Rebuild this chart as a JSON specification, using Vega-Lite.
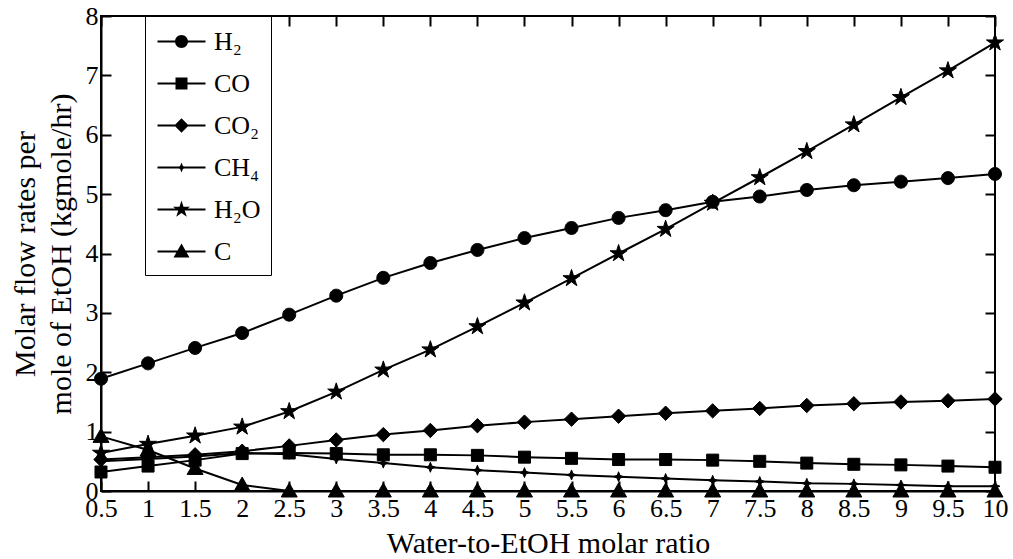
{
  "$schema": "https://vega.github.io/schema/vega-lite/v6.json",
  "width": 894,
  "height": 475,
  "autosize": "none",
  "padding": {"left": 101, "top": 16, "right": 18, "bottom": 68},
  "background": "white",
  "config": {
    "view": {"stroke": "black", "strokeWidth": 2},
    "font": "Liberation Serif"
  },
  "data": {
    "values": [
      {"x": 0.5, "s": "H₂", "y": 1.89}, {"x": 1, "s": "H₂", "y": 2.15}, {"x": 1.5, "s": "H₂", "y": 2.41}, {"x": 2, "s": "H₂", "y": 2.66}, {"x": 2.5, "s": "H₂", "y": 2.97}, {"x": 3, "s": "H₂", "y": 3.29}, {"x": 3.5, "s": "H₂", "y": 3.59}, {"x": 4, "s": "H₂", "y": 3.84}, {"x": 4.5, "s": "H₂", "y": 4.06}, {"x": 5, "s": "H₂", "y": 4.26}, {"x": 5.5, "s": "H₂", "y": 4.43}, {"x": 6, "s": "H₂", "y": 4.6}, {"x": 6.5, "s": "H₂", "y": 4.73}, {"x": 7, "s": "H₂", "y": 4.87}, {"x": 7.5, "s": "H₂", "y": 4.96}, {"x": 8, "s": "H₂", "y": 5.07}, {"x": 8.5, "s": "H₂", "y": 5.15}, {"x": 9, "s": "H₂", "y": 5.21}, {"x": 9.5, "s": "H₂", "y": 5.27}, {"x": 10, "s": "H₂", "y": 5.34},
      {"x": 0.5, "s": "CO", "y": 0.32}, {"x": 1, "s": "CO", "y": 0.42}, {"x": 1.5, "s": "CO", "y": 0.52}, {"x": 2, "s": "CO", "y": 0.63}, {"x": 2.5, "s": "CO", "y": 0.64}, {"x": 3, "s": "CO", "y": 0.63}, {"x": 3.5, "s": "CO", "y": 0.61}, {"x": 4, "s": "CO", "y": 0.61}, {"x": 4.5, "s": "CO", "y": 0.6}, {"x": 5, "s": "CO", "y": 0.57}, {"x": 5.5, "s": "CO", "y": 0.55}, {"x": 6, "s": "CO", "y": 0.53}, {"x": 6.5, "s": "CO", "y": 0.53}, {"x": 7, "s": "CO", "y": 0.52}, {"x": 7.5, "s": "CO", "y": 0.5}, {"x": 8, "s": "CO", "y": 0.47}, {"x": 8.5, "s": "CO", "y": 0.45}, {"x": 9, "s": "CO", "y": 0.44}, {"x": 9.5, "s": "CO", "y": 0.42}, {"x": 10, "s": "CO", "y": 0.4},
      {"x": 0.5, "s": "CO₂", "y": 0.53}, {"x": 1, "s": "CO₂", "y": 0.57}, {"x": 1.5, "s": "CO₂", "y": 0.61}, {"x": 2, "s": "CO₂", "y": 0.67}, {"x": 2.5, "s": "CO₂", "y": 0.76}, {"x": 3, "s": "CO₂", "y": 0.86}, {"x": 3.5, "s": "CO₂", "y": 0.95}, {"x": 4, "s": "CO₂", "y": 1.02}, {"x": 4.5, "s": "CO₂", "y": 1.1}, {"x": 5, "s": "CO₂", "y": 1.16}, {"x": 5.5, "s": "CO₂", "y": 1.21}, {"x": 6, "s": "CO₂", "y": 1.26}, {"x": 6.5, "s": "CO₂", "y": 1.31}, {"x": 7, "s": "CO₂", "y": 1.35}, {"x": 7.5, "s": "CO₂", "y": 1.39}, {"x": 8, "s": "CO₂", "y": 1.44}, {"x": 8.5, "s": "CO₂", "y": 1.47}, {"x": 9, "s": "CO₂", "y": 1.5}, {"x": 9.5, "s": "CO₂", "y": 1.52}, {"x": 10, "s": "CO₂", "y": 1.55},
      {"x": 0.5, "s": "CH₄", "y": 0.5}, {"x": 1, "s": "CH₄", "y": 0.54}, {"x": 1.5, "s": "CH₄", "y": 0.58}, {"x": 2, "s": "CH₄", "y": 0.64}, {"x": 2.5, "s": "CH₄", "y": 0.62}, {"x": 3, "s": "CH₄", "y": 0.54}, {"x": 3.5, "s": "CH₄", "y": 0.47}, {"x": 4, "s": "CH₄", "y": 0.4}, {"x": 4.5, "s": "CH₄", "y": 0.35}, {"x": 5, "s": "CH₄", "y": 0.31}, {"x": 5.5, "s": "CH₄", "y": 0.27}, {"x": 6, "s": "CH₄", "y": 0.24}, {"x": 6.5, "s": "CH₄", "y": 0.21}, {"x": 7, "s": "CH₄", "y": 0.18}, {"x": 7.5, "s": "CH₄", "y": 0.16}, {"x": 8, "s": "CH₄", "y": 0.13}, {"x": 8.5, "s": "CH₄", "y": 0.12}, {"x": 9, "s": "CH₄", "y": 0.1}, {"x": 9.5, "s": "CH₄", "y": 0.08}, {"x": 10, "s": "CH₄", "y": 0.08},
      {"x": 0.5, "s": "H₂O", "y": 0.64}, {"x": 1, "s": "H₂O", "y": 0.79}, {"x": 1.5, "s": "H₂O", "y": 0.93}, {"x": 2, "s": "H₂O", "y": 1.08}, {"x": 2.5, "s": "H₂O", "y": 1.34}, {"x": 3, "s": "H₂O", "y": 1.67}, {"x": 3.5, "s": "H₂O", "y": 2.04}, {"x": 4, "s": "H₂O", "y": 2.38}, {"x": 4.5, "s": "H₂O", "y": 2.77}, {"x": 5, "s": "H₂O", "y": 3.17}, {"x": 5.5, "s": "H₂O", "y": 3.58}, {"x": 6, "s": "H₂O", "y": 4.0}, {"x": 6.5, "s": "H₂O", "y": 4.41}, {"x": 7, "s": "H₂O", "y": 4.85}, {"x": 7.5, "s": "H₂O", "y": 5.28}, {"x": 8, "s": "H₂O", "y": 5.72}, {"x": 8.5, "s": "H₂O", "y": 6.17}, {"x": 9, "s": "H₂O", "y": 6.63}, {"x": 9.5, "s": "H₂O", "y": 7.08}, {"x": 10, "s": "H₂O", "y": 7.55},
      {"x": 0.5, "s": "C", "y": 0.92}, {"x": 1, "s": "C", "y": 0.69}, {"x": 1.5, "s": "C", "y": 0.38}, {"x": 2, "s": "C", "y": 0.1}, {"x": 2.5, "s": "C", "y": 0}, {"x": 3, "s": "C", "y": 0}, {"x": 3.5, "s": "C", "y": 0}, {"x": 4, "s": "C", "y": 0}, {"x": 4.5, "s": "C", "y": 0}, {"x": 5, "s": "C", "y": 0}, {"x": 5.5, "s": "C", "y": 0}, {"x": 6, "s": "C", "y": 0}, {"x": 6.5, "s": "C", "y": 0}, {"x": 7, "s": "C", "y": 0}, {"x": 7.5, "s": "C", "y": 0}, {"x": 8, "s": "C", "y": 0}, {"x": 8.5, "s": "C", "y": 0}, {"x": 9, "s": "C", "y": 0}, {"x": 9.5, "s": "C", "y": 0}, {"x": 10, "s": "C", "y": 0}
    ]
  },
  "layer": [
    {
      "mark": {"type": "line", "color": "black", "strokeWidth": 2},
      "encoding": {
        "x": {
          "field": "x", "type": "quantitative",
          "scale": {"domain": [0.5, 10], "nice": false, "zero": false},
          "axis": {
            "orient": "bottom",
            "values": [0.5, 1, 1.5, 2, 2.5, 3, 3.5, 4, 4.5, 5, 5.5, 6, 6.5, 7, 7.5, 8, 8.5, 9, 9.5, 10],
            "format": "~g",
            "grid": false,
            "domainColor": "black", "domainWidth": 2,
            "tickColor": "black", "tickWidth": 2, "tickSize": -10,
            "labelColor": "black", "labelFont": "Liberation Serif", "labelFontSize": 26,
            "labelPadding": 14, "labelFlush": false, "labelOverlap": false,
            "title": "Water-to-EtOH molar ratio",
            "titleFont": "Liberation Serif", "titleFontSize": 30, "titleFontWeight": "normal", "titleColor": "black",
            "titlePadding": 7
          }
        },
        "y": {
          "field": "y", "type": "quantitative",
          "scale": {"domain": [0, 8], "nice": false},
          "axis": {
            "orient": "left",
            "values": [0, 1, 2, 3, 4, 5, 6, 7, 8],
            "grid": false,
            "domainColor": "black", "domainWidth": 2,
            "tickColor": "black", "tickWidth": 2, "tickSize": -10,
            "labelColor": "black", "labelFont": "Liberation Serif", "labelFontSize": 26,
            "labelPadding": 13, "labelFlush": false, "labelOverlap": false,
            "title": ["Molar flow rates per\u00a0\u00a0\u00a0\u00a0\u00a0\u00a0\u00a0\u00a0\u00a0", "mole of EtOH (kgmole/hr)"],
            "titleFont": "Liberation Serif", "titleFontSize": 30, "titleFontWeight": "normal", "titleColor": "black",
            "titleLineHeight": 36,
            "titlePadding": 9
          }
        },
        "detail": {"field": "s"}
      }
    },
    {
      "mark": {"type": "point", "filled": true, "color": "black", "stroke": "black", "strokeWidth": 1, "size": 1600, "opacity": 1},
      "encoding": {
        "x": {"field": "x", "type": "quantitative", "axis": null},
        "y": {"field": "y", "type": "quantitative", "axis": null},
        "shape": {
          "field": "s", "type": "nominal",
          "scale": {
            "domain": ["H₂", "CO", "CO₂", "CH₄", "H₂O", "C"],
            "range": [
              "M-0.325,0A0.325,0.325,0,1,1,0.325,0A0.325,0.325,0,1,1,-0.325,0Z",
              "M-0.3,-0.3H0.3V0.3H-0.3Z",
              "M0,-0.36L0.36,0L0,0.36L-0.36,0Z",
              "M0,-0.25L0.07,-0.07L0.25,0L0.07,0.07L0,0.25L-0.07,0.07L-0.25,0L-0.07,-0.07Z",
              "M0,-0.45L0.1,-0.1375L0.428,-0.139L0.1617,0.0525L0.2645,0.364L0,0.17L-0.2645,0.364L-0.1617,0.0525L-0.428,-0.139L-0.1,-0.1375Z",
              "M0,-0.4L0.4,0.3L-0.4,0.3Z"
            ]
          },
          "legend": null
        }
      }
    },
    {
      "mark": {"type": "point", "fill": "black", "stroke": "black", "strokeWidth": 1, "size": 900, "opacity": 0},
      "encoding": {
        "x": {"field": "x", "type": "quantitative", "axis": {"orient": "top", "values": [0.5, 1, 1.5, 2, 2.5, 3, 3.5, 4, 4.5, 5, 5.5, 6, 6.5, 7, 7.5, 8, 8.5, 9, 9.5, 10], "labels": false, "domain": false, "grid": false, "tickColor": "black", "tickWidth": 2, "tickSize": -10, "title": null}},
        "y": {"field": "y", "type": "quantitative", "axis": {"orient": "right", "values": [0, 1, 2, 3, 4, 5, 6, 7, 8], "labels": false, "domain": false, "grid": false, "tickColor": "black", "tickWidth": 2, "tickSize": -10, "title": null}},
        "shape": {
          "field": "s", "type": "nominal",
          "scale": {
            "domain": ["H₂", "CO", "CO₂", "CH₄", "H₂O", "C"],
            "range": [
              "M-1.6,-0.067L1.6,-0.067L1.6,0.067L-1.6,0.067ZM-0.433,0A0.433,0.433,0,1,1,0.433,0A0.433,0.433,0,1,1,-0.433,0Z",
              "M-1.6,-0.067L1.6,-0.067L1.6,0.067L-1.6,0.067ZM-0.4,-0.4L0.4,-0.4L0.4,0.4L-0.4,0.4Z",
              "M-1.6,-0.067L1.6,-0.067L1.6,0.067L-1.6,0.067ZM0,-0.48L0.48,0L0,0.48L-0.48,0Z",
              "M-1.6,-0.067L1.6,-0.067L1.6,0.067L-1.6,0.067ZM0,-0.333L0.093,-0.093L0.333,0L0.093,0.093L0,0.333L-0.093,0.093L-0.333,0L-0.093,-0.093Z",
              "M-1.6,-0.067L1.6,-0.067L1.6,0.067L-1.6,0.067ZM0,-0.6L0.1333,-0.1833L0.5707,-0.1853L0.2156,0.07L0.3527,0.4853L0,0.2267L-0.3527,0.4853L-0.2156,0.07L-0.5707,-0.1853L-0.1333,-0.1833Z",
              "M-1.6,-0.067L1.6,-0.067L1.6,0.067L-1.6,0.067ZM0,-0.533L0.533,0.4L-0.533,0.4Z"
            ]
          },
          "legend": {
            "title": null,
            "orient": "none",
            "legendX": 44,
            "legendY": 0,
            "strokeColor": "black",
            "fillColor": "white",
            "padding": 10,
            "labelFont": "Liberation Serif",
            "labelFontSize": 26,
            "labelColor": "black",
            "labelOffset": 17,
            "symbolOffset": 11,
            "symbolSize": 900,
            "rowPadding": 13,
            "symbolOpacity": 1,
            "symbolFillColor": "black",
            "symbolStrokeColor": "black",
            "symbolStrokeWidth": 1,
            "encode": {
              "symbols": {"update": {"opacity": {"value": 1}, "fill": {"value": "black"}, "fillOpacity": {"value": 1}}},
              "legend": {"update": {"strokeWidth": {"value": 2}}}
            }
          }
        }
      }
    }
  ],
  "resolve": {"scale": {"shape": "independent"}, "axis": {"x": "independent", "y": "independent"}}
}
